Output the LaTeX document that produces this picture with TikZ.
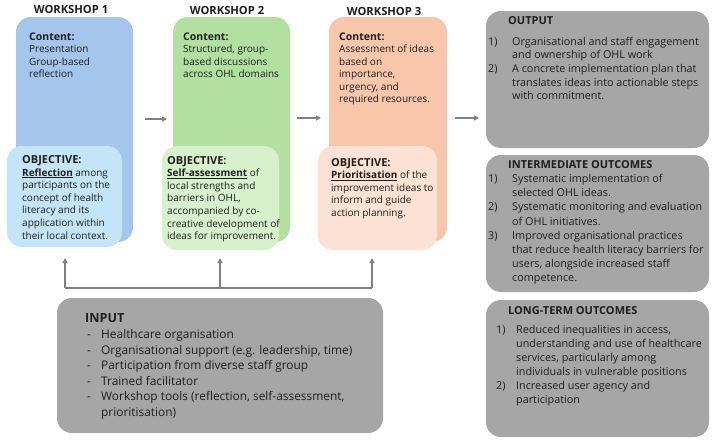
\documentclass[tikz,border=0pt]{standalone}
\usepackage{fontspec}
\setmainfont{Open Sans}
\usetikzlibrary{arrows.meta}
\definecolor{wblue}{HTML}{A4C6EC}
\definecolor{wbluel}{HTML}{C4E5F7}
\definecolor{wgreen}{HTML}{B2E0A0}
\definecolor{wgreenl}{HTML}{D8F1CD}
\definecolor{worange}{HTML}{F7C6AB}
\definecolor{worangel}{HTML}{FCE2D4}
\definecolor{boxgrey}{HTML}{A6A6A6}
\definecolor{arrgrey}{HTML}{808080}
\definecolor{txtc}{HTML}{1E1E1E}
\newcommand{\tb}[1]{\begin{tabular}[t]{@{}l@{}}#1\end{tabular}}
\newcommand{\tbl}[2]{\begin{tabular}[t]{@{}p{#1}@{}l@{}}#2\end{tabular}}
\newcommand{\hcont}{{\fontsize{10.5}{12.5}\selectfont\bfseries Content:}}
\newcommand{\hobj}{{\fontsize{11}{12.6}\selectfont\bfseries OBJECTIVE:}}
\tikzset{
  box/.style={draw=none, rounded corners=15pt, inner sep=0pt},
  txt/.style={inner sep=0pt, anchor=base west, text=txtc, font=\fontsize{10}{12.5}\selectfont},
  objtxt/.style={txt, font=\fontsize{10}{12.6}\selectfont},
  head/.style={inner sep=0pt, anchor=base, text=txtc, font=\fontsize{11.2}{12}\selectfont\bfseries},
  rhead/.style={txt, font=\fontsize{11}{12}\selectfont\bfseries},
  arr/.style={draw=arrgrey, line width=1.3pt, -{Triangle[length=5pt,width=5pt]}},
  conn/.style={draw=arrgrey, line width=1.3pt}
}
\begin{document}
\begin{tikzpicture}[x=1pt,y=-1pt]
\useasboundingbox (0,0) rectangle (714,442);
% workshop boxes
\node[box, fill=wblue, minimum width=117, minimum height=225] (w1) at (74.5,129.5) {};
\node[box, fill=wbluel, minimum width=115, minimum height=101] (o1) at (64.5,196.5) {};
\node[box, fill=wgreen, minimum width=117, minimum height=225] (w2) at (231.5,129.5) {};
\node[box, fill=wgreenl, minimum width=117, minimum height=104] (o2) at (220.5,198) {};
\node[box, fill=worange, minimum width=118, minimum height=225] (w3) at (388,129.5) {};
\node[box, fill=worangel, minimum width=119, minimum height=104] (o3) at (377.5,198) {};
% titles
\node[head] (t1) at (71,13) {WORKSHOP 1};
\node[head] (t2) at (227,14) {WORKSHOP 2};
\node[head] (t3) at (384,15) {WORKSHOP 3};
% contents
\node[txt] (c1) at (29,40) {\tb{\hcont\\Presentation\\Group-based\\reflection}};
\node[txt] (c2) at (183,40) {\tb{\hcont\\Structured, group-\\based discussions\\across OHL domains}};
\node[txt] (c3) at (339,40) {\tb{\hcont\\Assessment of ideas\\based on\\importance,\\urgency, and\\required resources.}};
% objectives
\node[objtxt] (j1) at (22,163.5) {\tb{\hobj\\\underline{\textbf{Reflection}} among\\participants on the\\concept of health\\literacy and its\\application within\\their local context.}};
\node[objtxt] (j2) at (167,164) {\tb{\hobj\\\underline{\textbf{Self-assessment}} of\\local strengths and\\barriers in OHL,\\accompanied by co-\\creative development of\\ideas for improvement.}};
\node[objtxt] (j3) at (331,166) {\tb{\hobj\\\underline{\textbf{Prioritisation}} of the\\improvement ideas to\\inform and guide\\action planning.}};
% right boxes
\node[box, fill=boxgrey, minimum width=223, minimum height=137] (out) at (597.5,79.5) {};
\node[box, fill=boxgrey, minimum width=223, minimum height=137] (mid) at (597.5,223.5) {};
\node[box, fill=boxgrey, minimum width=223, minimum height=137] (lng) at (597.5,368.5) {};
\node[box, fill=boxgrey, minimum width=326, minimum height=135] (inp) at (220,365.5) {};
\node[rhead] (outh) at (508,24) {OUTPUT};
\node[txt, font=\fontsize{10.8}{13.7}\selectfont] (outl) at (488,45) {\tbl{24pt}{1)&Organisational and staff engagement\\&and ownership of OHL work\\2)&A concrete implementation plan that\\&translates ideas into actionable steps\\&with commitment.}};
\node[rhead] (midh) at (508,168) {INTERMEDIATE OUTCOMES};
\node[txt, font=\fontsize{10.8}{14.1}\selectfont] (midl) at (488,182.7) {\tbl{24pt}{1)&Systematic implementation of\\&selected OHL ideas.\\2)&Systematic monitoring and evaluation\\&of OHL initiatives.\\3)&Improved organisational practices\\&that reduce health literacy barriers for\\&users, alongside increased staff\\&competence.}};
\node[rhead] (lngh) at (508,314) {LONG-TERM OUTCOMES};
\node[txt, font=\fontsize{10.8}{14}\selectfont] (lngl) at (496,333.3) {\tbl{20pt}{1)&Reduced inequalities in access,\\&understanding and use of healthcare\\&services, particularly among\\&individuals in vulnerable positions\\2)&Increased user agency and\\&participation}};
\node[txt, font=\fontsize{12.6}{14}\selectfont\bfseries] (inph) at (85,322.7) {INPUT};
\node[txt, font=\fontsize{11.9}{15.5}\selectfont] (inpl) at (87,338.7) {\tbl{14pt}{-&Healthcare organisation\\-&Organisational support (e.g. leadership, time)\\-&Participation from diverse staff group\\-&Trained facilitator\\-&Workshop tools (reflection, self-assessment,\\&prioritisation)}};
% arrows between stages
\coordinate (a1s) at (145,119); \coordinate (a1e) at (167,119);
\coordinate (a2s) at (297,118); \coordinate (a2e) at (321,118);
\coordinate (a3s) at (455,118); \coordinate (a3e) at (479,118);
\draw[arr] (a1s) -- (a1e);
\draw[arr] (a2s) -- (a2e);
\draw[arr] (a3s) -- (a3e);
% input connectors
\coordinate (bl) at (65,288); \coordinate (bm) at (220,288); \coordinate (br) at (372,288);
\coordinate (tl) at (65,258); \coordinate (tm) at (220,258); \coordinate (tr) at (372,258);
\draw[conn] (bl) -- (br);
\draw[arr] (bl) -- (tl);
\draw[arr] (bm) -- (tm);
\draw[arr] (br) -- (tr);
\end{tikzpicture}
\end{document}
